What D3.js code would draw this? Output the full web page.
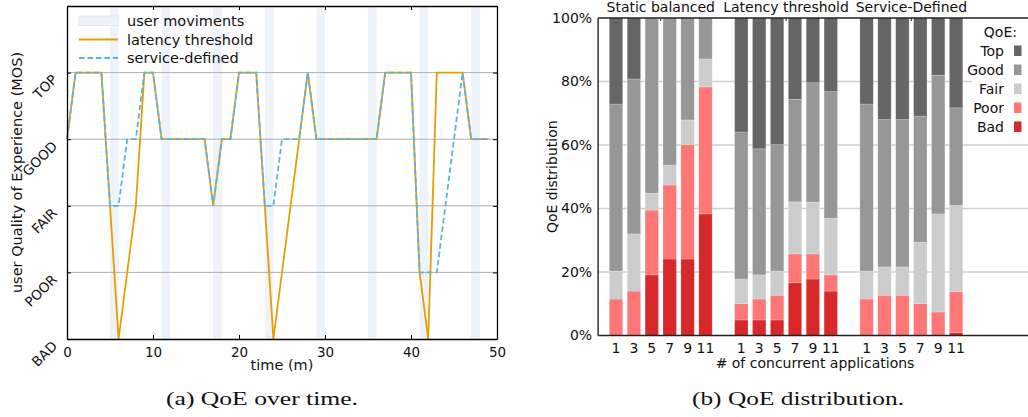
<!DOCTYPE html>
<html>
<head>
<meta charset="utf-8">
<script src="https://cdn.jsdelivr.net/npm/d3@7"></script>
<style>
  body { margin: 0; background: #fff; }
  text { font-family: "DejaVu Sans", sans-serif; fill: #111; }
</style>
</head>
<body>
<div id="chart"></div>
<script>
// ---------- data: (a) QoE over time ----------
const qoeLabels = ["BAD", "POOR", "FAIR", "GOOD", "TOP"];
const timeTicks = [0, 10, 20, 30, 40, 50];
const userMoviments = [5, 11, 17, 23, 29, 35, 41, 47];
const latencyTime = [0, 1, 4, 5, 6, 8, 9, 10, 11, 16, 17, 18, 19, 20, 22, 23, 24, 27, 28, 29, 36, 37, 40, 41, 42, 43, 46, 47, 49];
const latencyQoE  = [3, 4, 4, 2, 0, 2, 4, 4, 3, 3, 2, 3, 3, 4, 4, 2, 0, 3, 4, 3, 3, 4, 4, 1, 0, 4, 4, 3, 3];
const serviceTime = [0, 1, 4, 5, 6, 7, 8, 9, 10, 11, 16, 17, 18, 19, 20, 22, 23, 24, 25, 27, 28, 29, 36, 37, 40, 41, 43, 46, 47, 49];
const serviceQoE  = [3, 4, 4, 2, 2, 3, 3, 4, 4, 3, 3, 2, 3, 3, 4, 4, 2, 2, 3, 3, 4, 3, 3, 4, 4, 1, 1, 4, 3, 3];

// ---------- data: (b) QoE distribution ----------
const groups = ["Static balanced", "Latency threshold", "Service-Defined"];
const appCounts = ["1", "3", "5", "7", "9", "11"];
const qoeClasses = ["Bad", "Poor", "Fair", "Good", "Top"];
const pctTicks = [0, 20, 40, 60, 80, 100];
// each row: Bad, Poor, Fair, Good, Top (%)
const staticBalanced = [
  [0, 11.5, 8.8, 52.6, 27.1],
  [0, 14.0, 18.0, 48.8, 19.2],
  [19.1, 20.4, 5.3, 55.2, 0],
  [24.1, 23.3, 6.3, 46.3, 0],
  [24.1, 36.0, 7.8, 32.1, 0],
  [38.3, 40.0, 8.8, 12.9, 0]
];
const latencyThreshold = [
  [4.9, 5.2, 7.7, 46.3, 35.9],
  [4.9, 6.6, 7.6, 39.7, 41.2],
  [4.9, 7.8, 7.6, 39.8, 39.9],
  [16.6, 9.1, 16.4, 32.3, 25.6],
  [17.8, 7.9, 16.3, 37.6, 20.4],
  [14.0, 5.1, 17.8, 39.9, 23.2]
];
const serviceDefined = [
  [0, 11.5, 8.8, 52.6, 27.1],
  [0, 12.7, 8.9, 46.4, 32.0],
  [0, 12.7, 8.9, 46.4, 32.0],
  [0, 10.1, 19.3, 39.7, 30.9],
  [0, 7.4, 30.9, 43.7, 18.0],
  [1.0, 12.8, 27.2, 30.7, 28.3]
];
const qoeColors = ["#d7282a", "#ff7677", "#cccccc", "#979797", "#666666"];

const svg = d3.select("#chart")
  .append("svg")
  .attr("width", 1028)
  .attr("height", 417)
  .style("background", "#fff");

// ================= (a) QoE over time =================
const xL = d3.scaleLinear().domain([0, 50]).range([67, 497]);
const yL = d3.scaleLinear().domain([0, 5]).range([339, 6]);

const left = svg.append("g");

// user movement bands
left.selectAll(".band")
  .data(userMoviments)
  .enter().append("rect")
  .attr("x", d => xL(d))
  .attr("y", yL(5))
  .attr("width", d => xL(d + 1) - xL(d))
  .attr("height", yL(0) - yL(5))
  .attr("fill", "#edf3f8");

// grid lines at QoE levels
left.selectAll(".grid")
  .data([1, 2, 3, 4])
  .enter().append("line")
  .attr("x1", xL(0)).attr("x2", xL(50))
  .attr("y1", d => yL(d)).attr("y2", d => yL(d))
  .attr("stroke", "#b0b0b0")
  .attr("stroke-width", 1);

const lineL = d3.line().x(d => xL(d[0])).y(d => yL(d[1]));

left.append("path")
  .datum(latencyTime.map((t, i) => [t, latencyQoE[i]]))
  .attr("d", lineL)
  .attr("fill", "none")
  .attr("stroke", "#e69f00")
  .attr("stroke-width", 1.8);

left.append("path")
  .datum(serviceTime.map((t, i) => [t, serviceQoE[i]]))
  .attr("d", lineL)
  .attr("fill", "none")
  .attr("stroke", "#56b4e9")
  .attr("stroke-width", 1.8)
  .attr("stroke-dasharray", "5.5,3");

// axes (ticks pointing inward)
const axB = left.append("g")
  .attr("transform", `translate(0, ${yL(0)})`)
  .call(d3.axisBottom(xL).tickValues(timeTicks).tickSizeInner(-4).tickSizeOuter(0).tickPadding(8));
const axT = left.append("g")
  .attr("transform", `translate(0, ${yL(5)})`)
  .call(d3.axisTop(xL).tickValues(timeTicks).tickSizeInner(-4).tickSizeOuter(0).tickFormat(""));
const axR = left.append("g")
  .attr("transform", `translate(${xL(50)}, 0)`)
  .call(d3.axisRight(yL).tickValues([0, 1, 2, 3, 4]).tickSizeInner(-4).tickSizeOuter(0).tickFormat(""));
const axLft = left.append("g")
  .attr("transform", `translate(${xL(0)}, 0)`)
  .call(d3.axisLeft(yL).tickValues([0, 1, 2, 3, 4]).tickSizeInner(-4).tickSizeOuter(0).tickFormat(""));

[axB, axT, axR, axLft].forEach(a => {
  a.select(".domain").attr("stroke", "#000").attr("stroke-width", 1.3);
  a.selectAll(".tick line").attr("stroke", "#000");
});
axB.selectAll(".tick text")
  .style("font-size", "13.5px")
  .style("font-family", "DejaVu Sans")
  .attr("fill", "#111");

// rotated QoE labels
left.selectAll(".qlab")
  .data(qoeLabels)
  .enter().append("text")
  .attr("text-anchor", "end")
  .attr("transform", (d, i) => `translate(58, ${yL(i) + 8}) rotate(-45)`)
  .style("font-size", "13.5px")
  .text(d => d);

left.append("text")
  .attr("x", (xL(0) + xL(50)) / 2)
  .attr("y", 370)
  .attr("text-anchor", "middle")
  .style("font-size", "14.5px")
  .text("time (m)");

left.append("text")
  .attr("transform", `translate(22, ${(yL(0) + yL(5)) / 2}) rotate(-90)`)
  .attr("text-anchor", "middle")
  .style("font-size", "14.5px")
  .text("user Quality of Experience (MOS)");

// legend
const legL = left.append("g");
legL.append("rect")
  .attr("x", 79).attr("y", 16).attr("width", 39).attr("height", 9.5)
  .attr("fill", "#edf3f8").attr("stroke", "#dce7f0").attr("stroke-width", 0.8);
legL.append("line")
  .attr("x1", 79).attr("x2", 118).attr("y1", 39.5).attr("y2", 39.5)
  .attr("stroke", "#e69f00").attr("stroke-width", 1.8);
legL.append("line")
  .attr("x1", 79).attr("x2", 118).attr("y1", 58).attr("y2", 58)
  .attr("stroke", "#56b4e9").attr("stroke-width", 1.8).attr("stroke-dasharray", "5.5,3");
legL.selectAll(".ltxt")
  .data(["user moviments", "latency threshold", "service-defined"])
  .enter().append("text")
  .attr("x", 127)
  .attr("y", (d, i) => 26 + i * 18.5)
  .style("font-size", "14.5px")
  .text(d => d);

// ================= (b) QoE distribution =================
const step = 17.9;
const xR = d3.scaleLinear().domain([-1, 24]).range([598.1, 598.1 + 25 * step]);
const yR = d3.scaleLinear().domain([0, 100]).range([335.5, 18]);
const barW = 13.4;

const right = svg.append("g");

// grid
right.selectAll(".rgrid")
  .data([20, 40, 60, 80])
  .enter().append("line")
  .attr("x1", xR(-1)).attr("x2", 1028)
  .attr("y1", d => yR(d)).attr("y2", d => yR(d))
  .attr("stroke", "#cfcfcf")
  .attr("stroke-width", 1.6);

// table for stacking
const tables = [staticBalanced, latencyThreshold, serviceDefined];
const rows = [];
tables.forEach((tbl, gi) => {
  tbl.forEach((vals, j) => {
    const row = { slot: gi * 7 + j, label: appCounts[j] };
    qoeClasses.forEach((k, ki) => { row[k] = vals[ki]; });
    rows.push(row);
  });
});
const stacked = d3.stack().keys(qoeClasses)(rows);

right.selectAll(".layer")
  .data(stacked)
  .enter().append("g")
  .attr("fill", (d, i) => qoeColors[i])
  .selectAll("rect")
  .data(d => d)
  .enter().append("rect")
  .attr("x", d => xR(d.data.slot) - barW / 2)
  .attr("y", d => yR(d[1]))
  .attr("width", barW)
  .attr("height", d => Math.max(0, yR(d[0]) - yR(d[1])))
  .attr("stroke", "#fff")
  .attr("stroke-opacity", 0.3)
  .attr("stroke-width", 0.7);

// frame
right.append("line")
  .attr("x1", xR(-1)).attr("x2", xR(-1))
  .attr("y1", yR(0)).attr("y2", yR(100))
  .attr("stroke", "#222").attr("stroke-width", 1.4);
right.append("line")
  .attr("x1", xR(-1)).attr("x2", 1028)
  .attr("y1", yR(0)).attr("y2", yR(0))
  .attr("stroke", "#222").attr("stroke-width", 1.6);
right.append("line")
  .attr("x1", xR(-1)).attr("x2", 1028)
  .attr("y1", yR(100)).attr("y2", yR(100))
  .attr("stroke", "#222").attr("stroke-width", 1.4);

// y axis labels
const ayR = right.append("g")
  .attr("transform", `translate(${xR(-1)}, 0)`)
  .call(d3.axisLeft(yR).tickValues(pctTicks).tickFormat(d => d + "%").tickSize(0).tickPadding(6));
ayR.select(".domain").remove();
ayR.selectAll(".tick text")
  .style("font-size", "14px")
  .style("font-family", "DejaVu Sans")
  .attr("fill", "#111");

// x tick labels
right.selectAll(".xlab")
  .data(rows)
  .enter().append("text")
  .attr("x", d => xR(d.slot))
  .attr("y", 353)
  .attr("text-anchor", "middle")
  .style("font-size", "14px")
  .text(d => d.label);

// group titles + top ticks
groups.forEach((g, gi) => {
  const cx = xR(gi * 7 + 2.5);
  right.append("text")
    .attr("x", cx)
    .attr("y", 12)
    .attr("text-anchor", "middle")
    .style("font-size", "14px")
    .text(g);
  right.append("line")
    .attr("x1", cx).attr("x2", cx)
    .attr("y1", yR(100)).attr("y2", yR(100) + 3)
    .attr("stroke", "#222").attr("stroke-width", 1);
});

right.append("text")
  .attr("x", 815)
  .attr("y", 368)
  .attr("text-anchor", "middle")
  .style("font-size", "14px")
  .text("# of concurrent applications");

right.append("text")
  .attr("transform", `translate(557, ${(yR(0) + yR(100)) / 2}) rotate(-90)`)
  .attr("text-anchor", "middle")
  .style("font-size", "14px")
  .text("QoE distribution");

// legend
const legR = right.append("g");
legR.append("rect")
  .attr("x", 972).attr("y", 20).attr("width", 56).attr("height", 118)
  .attr("fill", "#fff");
legR.append("text")
  .attr("x", 1017).attr("y", 37)
  .attr("text-anchor", "end")
  .style("font-size", "14px")
  .text("QoE:");
const legItems = qoeClasses.slice().reverse();
legItems.forEach((k, i) => {
  const yb = 56 + i * 19;
  legR.append("text")
    .attr("x", 1004).attr("y", yb)
    .attr("text-anchor", "end")
    .style("font-size", "14px")
    .text(k);
  legR.append("rect")
    .attr("x", 1014).attr("y", yb - 10.5)
    .attr("width", 7.5).attr("height", 10.5)
    .attr("fill", qoeColors[qoeClasses.indexOf(k)]);
});

// ================= captions =================
svg.append("text")
  .attr("x", 262).attr("y", 405)
  .attr("text-anchor", "middle")
  .attr("textLength", 192)
  .attr("lengthAdjust", "spacingAndGlyphs")
  .style("font-family", "Liberation Serif, serif")
  .style("font-size", "18px")
  .text("(a) QoE over time.");
svg.append("text")
  .attr("x", 798).attr("y", 405)
  .attr("text-anchor", "middle")
  .attr("textLength", 212)
  .attr("lengthAdjust", "spacingAndGlyphs")
  .style("font-family", "Liberation Serif, serif")
  .style("font-size", "18px")
  .text("(b) QoE distribution.");
</script>
</body>
</html>
